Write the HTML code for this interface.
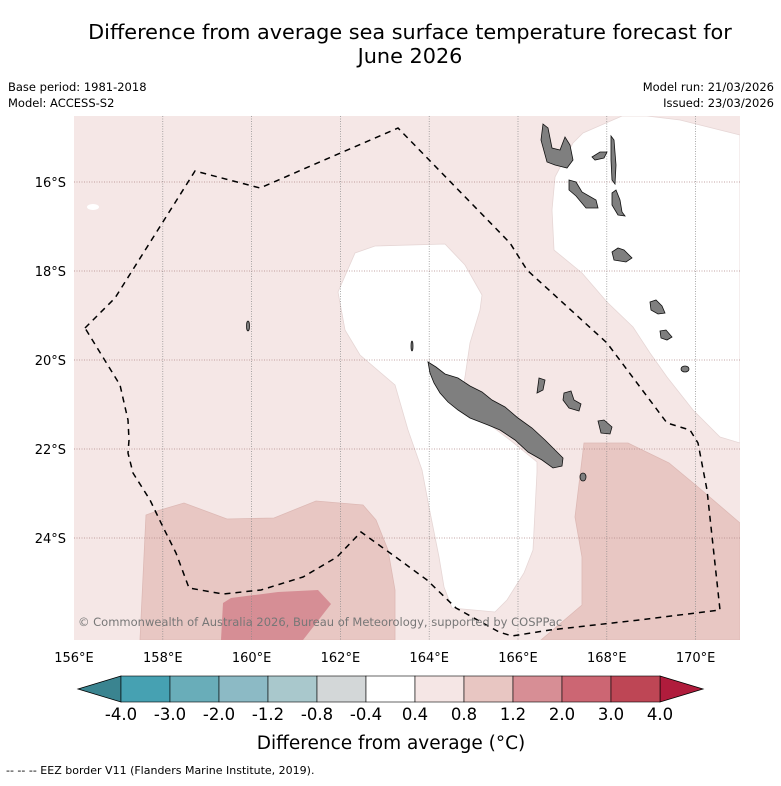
<!DOCTYPE html>
<html><head><meta charset="utf-8"><style>
body{margin:0;background:#fff;width:781px;height:781px;overflow:hidden;font-family:"Liberation Sans","DejaVu Sans",sans-serif}
svg text{font-family:"DejaVu Sans","Liberation Sans",sans-serif}
</style></head><body>
<svg id="chart" width="781" height="781" viewBox="0 0 781 781">
<text x="410" y="39" font-size="20.8" text-anchor="middle">Difference from average sea surface temperature forecast for</text>
<text x="410" y="63" font-size="20.8" text-anchor="middle">June 2026</text>
<text x="8" y="91" font-size="11.5">Base period: 1981-2018</text>
<text x="8" y="107" font-size="11.5">Model: ACCESS-S2</text>
<text x="774" y="91" font-size="11.5" text-anchor="end">Model run: 21/03/2026</text>
<text x="774" y="107" font-size="11.5" text-anchor="end">Issued: 23/03/2026</text>
<defs><clipPath id="mc"><rect x="74" y="116" width="666" height="524"/></clipPath></defs>
<g clip-path="url(#mc)">
<rect x="74" y="116" width="666" height="524" fill="#f5e7e6"/>
<path d="M338,292 L355,253 L375,246 L445,244 L465,265 L482,295 L480,310 L470,343 L465,377 L462,393 L470,410 L510,440 L537,462 L537,472 L533,550 L524,573 L507,600 L495,612 L452,608 L444,587 L439,557 L429,507 L422,470 L408,430 L395,385 L360,355 L345,330 Z" fill="#fff" stroke="#e6d6d5" stroke-width="0.8"/>
<path d="M622,116 L647,116 L680,120 L740,135 L740,443 L720,437 L693,410 L667,377 L650,353 L633,327 L607,302 L582,273 L554,250 L552,210 L555,177 L573,143 L583,133 Z" fill="#fff" stroke="#e6d6d5" stroke-width="0.8"/>
<ellipse cx="93" cy="207" rx="6" ry="3" fill="#fff"/>
<path d="M140,640 L146,515 L157,511 L184,503 L227,519 L274,518 L316,501 L363,505 L376,520 L388,550 L395,590 L395,640 Z" fill="#e8c7c3" stroke="#ddb9b5" stroke-width="0.8"/>
<path d="M221,640 L223,603 L231,598 L278,592 L318,590 L331,604 L303,640 Z" fill="#d68e95"/>
<path d="M584,443 L628,443 L669,463 L698,487 L740,523 L740,640 L541,640 L582,605 L582,557 L575,517 Z" fill="#e8c7c3" stroke="#ddb9b5" stroke-width="0.8"/>
<g id="grid"></g>
<g fill="#7f7f7f" stroke="#111" stroke-width="0.8">
<path d="M428,362 L436,367 L445,374 L458,378 L470,386 L482,392 L492,400 L505,407 L518,418 L532,428 L545,440 L555,450 L563,458 L562,466 L553,468 L542,460 L528,452 L515,440 L500,430 L488,425 L470,418 L458,410 L448,402 L440,393 L434,383 L430,373 Z"/>
<path d="M543,124 L548,128 L552,148 L560,150 L565,137 L570,145 L573,160 L567,168 L555,165 L547,162 L541,140 Z"/>
<path d="M569,180 L576,182 L582,192 L596,200 L598,208 L586,208 L576,196 L569,190 Z"/>
<path d="M592,157 L600,152 L607,152 L604,158 L595,160 Z"/>
<path d="M611,136 L614,140 L616,165 L615,184 L612,180 L611,160 Z"/>
<path d="M612,193 L616,190 L620,200 L622,212 L625,216 L618,215 L612,205 Z"/>
<path d="M612,252 L618,248 L624,250 L632,258 L626,262 L614,260 Z"/>
<path d="M650,302 L656,300 L662,306 L665,313 L658,314 L651,310 Z"/>
<path d="M660,331 L666,330 L672,337 L667,340 L661,338 Z"/>
<ellipse cx="685" cy="369" rx="4" ry="3"/>
<path d="M539,378 L545,380 L543,390 L537,393 Z"/>
<path d="M564,393 L571,391 L574,400 L581,404 L579,411 L569,408 L563,400 Z"/>
<path d="M598,421 L604,420 L612,427 L610,434 L601,433 Z"/>
<ellipse cx="583" cy="477" rx="3" ry="4"/>
<ellipse cx="248" cy="326" rx="1.5" ry="5"/>
<ellipse cx="412" cy="346" rx="1" ry="5"/>
</g>
<path d="M85,328 L115,298 L195,171 L260,188 L398,128 L510,243 L527,270 L607,343 L667,423 L690,430 L698,443 L707,490 L720,610 L639,620 L550,630 L512,636 L499,632 L456,608 L427,580 L397,558 L361,532 L337,557 L303,577 L261,590 L223,594 L189,588 L176,553 L163,527 L150,500 L133,473 L128,453 L129,440 L128,420 L120,385 Z" fill="none" stroke="#000" stroke-width="1.5" stroke-dasharray="6,5"/>
</g>
<text x="78" y="626" font-size="11.5" fill="#777">© Commonwealth of Australia 2026, Bureau of Meteorology, supported by COSPPac</text>
<g id="axes"></g>
<g id="cbar"></g>
<text x="391" y="749" font-size="18.5" text-anchor="middle">Difference from average (<tspan font-style="italic">°</tspan>C)</text>
<text x="6" y="774" font-size="11">--  --  -- EEZ border V11 (Flanders Marine Institute, 2019).</text>
</svg>
<script>
const lonTicks=[156,158,160,162,164,166,168,170];
const latTicks=[16,18,20,22,24];
const levels=["-4.0","-3.0","-2.0","-1.2","-0.8","-0.4","0.4","0.8","1.2","2.0","3.0","4.0"];
const binColors=["#46a1b2","#69adb9","#8cbac5","#a9c8cc","#d3d7d8","#ffffff","#f5e6e5","#e8c6c2","#d78e95","#cc6673","#be4655"];
const underColor="#3a8490";
const overColor="#b01c3c";
const NS="http://www.w3.org/2000/svg";
function lonX(l){return 74+(l-156)*44.4;}
function latY(l){return 182+(l-16)*44.5;}
function mk(t,a,p){const e=document.createElementNS(NS,t);for(const k in a)e.setAttribute(k,a[k]);p.appendChild(e);return e;}
const grid=document.getElementById('grid'),axes=document.getElementById('axes'),cb=document.getElementById('cbar');
lonTicks.forEach(l=>{const x=lonX(l);
 if(l>156){const g=mk('line',{x1:x,x2:x,y1:116,y2:640,stroke:'#888','stroke-width':0.7,'stroke-dasharray':'1,1.5'},grid);
 
 }
 const t=mk('text',{x:x,y:662,'font-size':13,'text-anchor':'middle'},axes);t.textContent=l+'°E';
 
 });
latTicks.forEach(l=>{const y=latY(l);
 const g=mk('line',{x1:74,x2:740,y1:y,y2:y,stroke:'#b08888','stroke-width':0.7,'stroke-dasharray':'1,1.5'},grid);
 
 
 const t=mk('text',{x:66,y:y+5,'font-size':13,'text-anchor':'end'},axes);t.textContent=l+'°S';
 
 });
const cx0=121,cw=49,cy=676,ch=26;
const lt=mk('polygon',{points:`${cx0},${cy} 78,${cy+ch/2} ${cx0},${cy+ch}`,fill:underColor,stroke:'#000','stroke-width':0.8},cb);


const xe=cx0+cw*binColors.length;
const rt=mk('polygon',{points:`${xe},${cy} 703,${cy+ch/2} ${xe},${cy+ch}`,fill:overColor,stroke:'#000','stroke-width':0.8},cb);


binColors.forEach((c,i)=>{const r=mk('rect',{x:cx0+i*cw,y:cy,width:cw,height:ch,fill:c,stroke:'#000','stroke-width':0.6},cb);
 
 });
levels.forEach((v,i)=>{const t=mk('text',{x:cx0+i*cw,y:720,'font-size':16.5,'text-anchor':'middle'},cb);t.textContent=v;
 
 });
</script>
</body></html>
